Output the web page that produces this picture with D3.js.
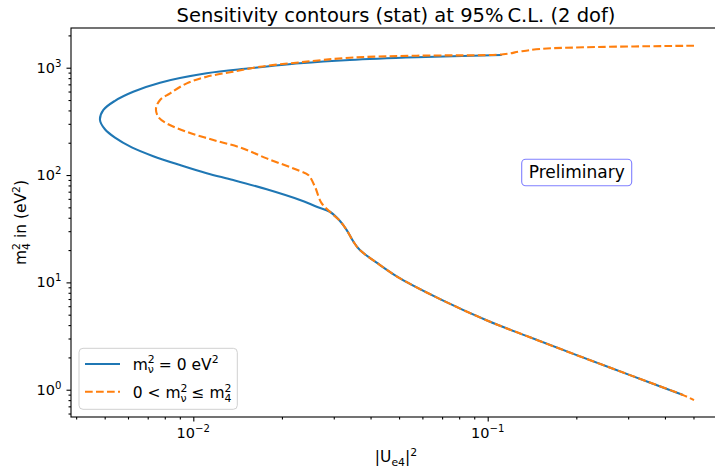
<!DOCTYPE html>
<html>
<head>
<meta charset="utf-8">
<script src="https://d3js.org/d3.v7.min.js"></script>
<style>
body { margin: 0; background: #fff; }
text { font-family: "DejaVu Sans", sans-serif; fill: #000; }
</style>
</head>
<body>
<div id="my_dataviz"></div>
<script>
// contour for m_nu^2 = 0
var blueU = [0.1116, 0.0574, 0.0340, 0.02304, 0.0156, 0.0111, 0.00771, 0.00625, 0.00542, 0.00495,
             0.00482, 0.00501, 0.00542, 0.00618, 0.00731, 0.00901, 0.0111, 0.01367, 0.01775, 0.02304,
             0.02625, 0.0291, 0.0315, 0.0332, 0.0350, 0.0368, 0.0431, 0.0504, 0.0689, 0.1,
             0.1392, 0.2006, 0.3043, 0.461];
var blueM = [1313, 1250, 1180, 1099, 987, 887, 725, 597, 492, 404,
             326, 267, 223, 181, 150, 124, 104, 89.8, 73.6, 58.5,
             50.7, 45.5, 37.3, 30.7, 23.9, 20.0, 14.5, 10.9, 6.99, 4.39,
             3.08, 2.10, 1.368, 0.891];

// contour for 0 < m_nu^2 <= m_4^2
var orangeU = [0.502, 0.2112, 0.1506, 0.1287, 0.1130, 0.0574, 0.0340, 0.02304, 0.01685, 0.01367, 0.0111,
               0.0095, 0.00834, 0.00771, 0.00747, 0.0076, 0.00812, 0.0095, 0.0117, 0.01441, 0.01775,
               0.02304, 0.02458, 0.0259, 0.0272, 0.0291, 0.0315, 0.0332, 0.0350, 0.0368, 0.0431,
               0.0504, 0.0689, 0.1, 0.1392, 0.2006, 0.3043, 0.461, 0.502];
var orangeM = [1603, 1549, 1494, 1416, 1333, 1294, 1239, 1123, 1022, 918, 824,
               715, 577, 500, 418, 349, 303, 253, 212, 181, 143,
               109, 100, 77.8, 55.4, 45.5, 37.3, 30.7, 23.9, 20.0, 14.5,
               10.9, 6.99, 4.39, 3.08, 2.10, 1.368, 0.891, 0.80];

// major ticks and their exponents
var xMajor = [0.01, 0.1];
var xExp = ["\u22122", "\u22121"];
var yMajor = [1, 10, 100, 1000];
var yExp = ["0", "1", "2", "3"];

// set the dimensions and margins of the graph
var margin = {top: 28, right: -6, bottom: 51, left: 71},
    width = 715 - margin.left - margin.right,
    height = 468 - margin.top - margin.bottom;

var root = d3.select("#my_dataviz")
  .append("svg")
    .attr("width", 715)
    .attr("height", 468);

var svg = root.append("g")
    .attr("transform", "translate(" + margin.left + "," + margin.top + ")");

var x = d3.scaleLog()
  .domain([0.003842, 0.6201])
  .range([0, width]);
var y = d3.scaleLog()
  .domain([0.557, 2344])
  .range([height, 0]);

// minor tick positions 2..9 per decade
function minors(scale) {
  var d = scale.domain(), out = [];
  for (var e = -4; e <= 4; e++) {
    for (var k = 2; k <= 9; k++) {
      var v = k * Math.pow(10, e);
      if (v >= Math.min(d[0], d[1]) && v <= Math.max(d[0], d[1])) out.push(v);
    }
  }
  return out;
}

// axes (ticks only, spines drawn below)
svg.append("g")
  .attr("transform", "translate(0," + height + ")")
  .call(d3.axisBottom(x).tickValues(xMajor).tickSize(4.5).tickSizeOuter(0).tickFormat(""));
svg.append("g")
  .attr("transform", "translate(0," + height + ")")
  .call(d3.axisBottom(x).tickValues(minors(x)).tickSize(2.5).tickSizeOuter(0).tickFormat(""));
svg.append("g")
  .call(d3.axisLeft(y).tickValues(yMajor).tickSize(4.5).tickSizeOuter(0).tickFormat(""));
svg.append("g")
  .call(d3.axisLeft(y).tickValues(minors(y)).tickSize(2.5).tickSizeOuter(0).tickFormat(""));
svg.selectAll(".domain").remove();
svg.selectAll(".tick line").attr("stroke", "#000").attr("stroke-width", 1.1);

// spines
svg.append("rect")
  .attr("width", width)
  .attr("height", height)
  .attr("fill", "none")
  .attr("stroke", "#000")
  .attr("stroke-width", 1.1);

// tick labels like 10^-2
var tfs = 14.5;
xMajor.forEach(function(v, i) {
  var t = svg.append("text")
    .attr("x", x(v))
    .attr("y", height + 21)
    .attr("text-anchor", "middle")
    .style("font-size", tfs + "px");
  t.append("tspan").text("10");
  t.append("tspan").attr("dy", -6).style("font-size", (tfs * 0.7) + "px").text(xExp[i]);
});
yMajor.forEach(function(v, i) {
  var t = svg.append("text")
    .attr("x", -9.5)
    .attr("y", y(v) + 5)
    .attr("text-anchor", "end")
    .style("font-size", tfs + "px");
  t.append("tspan").text("10");
  t.append("tspan").attr("dy", -6).style("font-size", (tfs * 0.7) + "px").text(yExp[i]);
});

// lines
var line = d3.line()
  .curve(d3.curveCatmullRom.alpha(0.5))
  .x(function(d) { return x(d[0]); })
  .y(function(d) { return y(d[1]); });

svg.append("path")
  .datum(d3.zip(blueU, blueM))
  .attr("fill", "none")
  .attr("stroke", "#1f77b4")
  .attr("stroke-width", 2.1)
  .attr("stroke-linejoin", "round")
  .attr("d", line);

svg.append("path")
  .datum(d3.zip(orangeU, orangeM))
  .attr("fill", "none")
  .attr("stroke", "#ff7f0e")
  .attr("stroke-width", 2.1)
  .attr("stroke-dasharray", "7.7,3.3")
  .attr("d", line);

// helper for m^2 with a subscript under the superscript
function mSub(t, fs, sub) {
  var s = fs * 0.7;
  t.append("tspan").style("font-size", fs + "px").text("m");
  t.append("tspan").attr("dy", -6.5).style("font-size", s + "px").text("2");
  t.append("tspan").attr("dy", 10).attr("dx", -0.636 * s).style("font-size", s + "px").text(sub);
}

// title
root.append("text")
  .attr("x", 396)
  .attr("y", 21.5)
  .attr("text-anchor", "middle")
  .style("font-size", "19.5px")
  .text("Sensitivity contours (stat) at 95%\u2009C.L. (2 dof)");

// y label
var lfs = 15.5;
var yl = root.append("text")
  .attr("transform", "translate(26," + (margin.top + height / 2) + ")rotate(-90)")
  .attr("text-anchor", "middle")
  .style("font-size", lfs + "px");
mSub(yl, lfs, "4");
yl.append("tspan").attr("dy", -3.5).style("font-size", lfs + "px").text(" in (eV");
yl.append("tspan").attr("dy", -6.5).style("font-size", (lfs * 0.7) + "px").text("2");
yl.append("tspan").attr("dy", 6.5).style("font-size", lfs + "px").text(")");

// x label
var xl = root.append("text")
  .attr("x", 396)
  .attr("y", 462)
  .attr("text-anchor", "middle")
  .style("font-size", lfs + "px");
xl.append("tspan").text("|U");
xl.append("tspan").attr("dy", 3.5).style("font-size", (lfs * 0.7) + "px").text("e4");
xl.append("tspan").attr("dy", -3.5).style("font-size", lfs + "px").text("|");
xl.append("tspan").attr("dy", -6.5).style("font-size", (lfs * 0.7) + "px").text("2");

// preliminary box
var pre = root.append("g");
pre.append("rect")
  .attr("x", 521.7)
  .attr("y", 159.3)
  .attr("width", 110)
  .attr("height", 26.4)
  .attr("rx", 4)
  .attr("fill", "#fff")
  .attr("stroke", "#8080ff")
  .attr("stroke-width", 1.1);
pre.append("text")
  .attr("x", 576.7)
  .attr("y", 178.3)
  .attr("text-anchor", "middle")
  .style("font-size", "17px")
  .text("Preliminary");

// legend
var legend = root.append("g").attr("transform", "translate(79,348.3)");
legend.append("rect")
  .attr("width", 158.3)
  .attr("height", 61)
  .attr("rx", 4)
  .attr("fill", "#fff")
  .attr("fill-opacity", 0.8)
  .attr("stroke", "#d0d0d0")
  .attr("stroke-width", 1);
legend.append("line")
  .attr("x1", 6).attr("x2", 41).attr("y1", 15.7).attr("y2", 15.7)
  .attr("stroke", "#1f77b4").attr("stroke-width", 2.1);
legend.append("line")
  .attr("x1", 6).attr("x2", 41).attr("y1", 43.4).attr("y2", 43.4)
  .attr("stroke", "#ff7f0e").attr("stroke-width", 2.1)
  .attr("stroke-dasharray", "7.7,3.3");

var l1 = legend.append("text").attr("x", 53.7).attr("y", 21.7).style("font-size", lfs + "px");
mSub(l1, lfs, "\u03bd");
l1.append("tspan").attr("dy", -3.5).style("font-size", lfs + "px").text(" = 0 eV");
l1.append("tspan").attr("dy", -6.5).style("font-size", (lfs * 0.7) + "px").text("2");

var l2 = legend.append("text").attr("x", 53.7).attr("y", 50).style("font-size", lfs + "px");
l2.append("tspan").text("0 < ");
mSub(l2, lfs, "\u03bd");
l2.append("tspan").attr("dy", -3.5).style("font-size", lfs + "px").text(" \u2264 ");
mSub(l2, lfs, "4");
</script>
</body>
</html>
